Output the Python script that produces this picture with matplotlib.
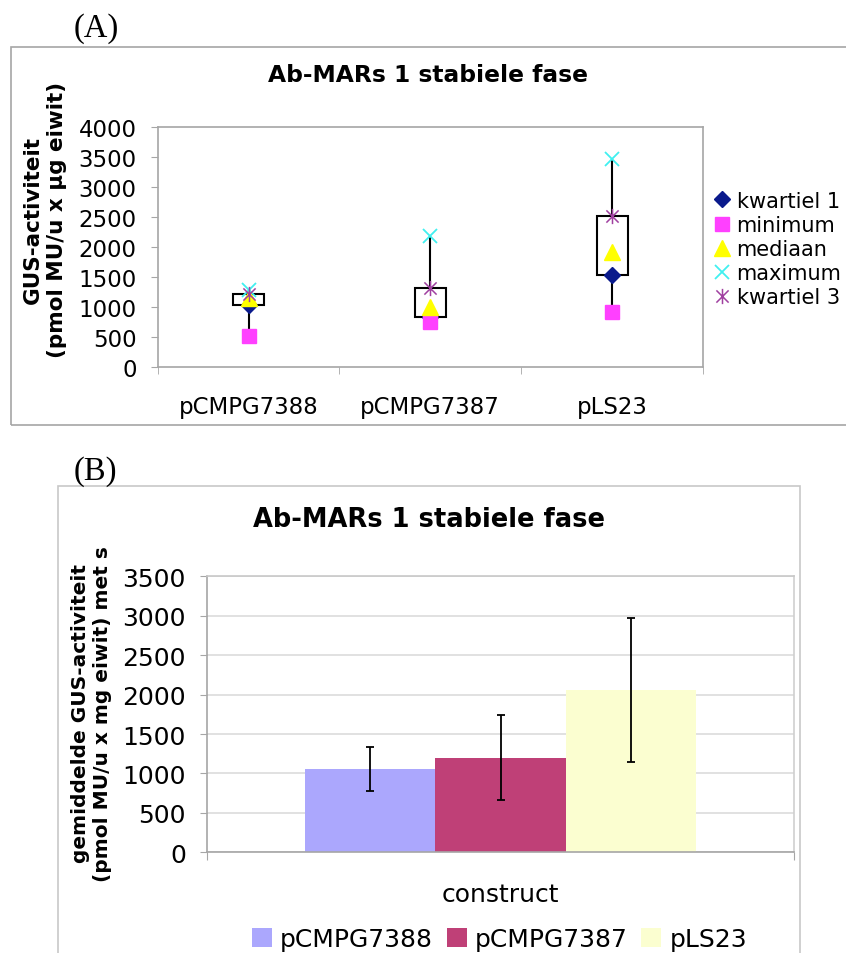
import matplotlib
matplotlib.use('Agg')
import matplotlib.pyplot as plt
from matplotlib.lines import Line2D
from matplotlib.patches import Rectangle, Patch
from matplotlib.path import Path

plt.rcParams['font.family'] = 'DejaVu Sans'

W, H = 846, 954

# ---- data: panel A (box-plot statistics) ----
constructs = ['pCMPG7388', 'pCMPG7387', 'pLS23']
kwartiel1 = [1045, 845, 1545]
minimum = [515, 760, 925]
mediaan = [1160, 1000, 1930]
maximum = [1285, 2190, 3480]
kwartiel3 = [1230, 1325, 2520]

# ---- data: panel B (mean +/- s) ----
means = [1060, 1200, 2060]
sds = [280, 540, 910]
bar_colors = ['#ABA7FD', '#BF4077', '#FBFED0']

GRAY = '#A6A6A6'


def fx(px):
    return px / W


def fy(py):
    return 1 - py / H


fig = plt.figure(figsize=(W / 100, H / 100), dpi=100)
fig.patch.set_facecolor('white')

# panel frames
fig.add_artist(Rectangle((fx(11), fy(426)), fx(850) - fx(11), fy(48) - fy(426),
                         transform=fig.transFigure, fill=False, edgecolor=GRAY, lw=1.2))
fig.add_artist(Rectangle((fx(58), fy(970)), fx(800) - fx(58), fy(487) - fy(970),
                         transform=fig.transFigure, fill=False, edgecolor='#C8C8C8', lw=1.2))

fig.text(fx(74), fy(29), '(A)', family='Liberation Serif', fontsize=23.5, ha='left', va='center')
fig.text(fx(74), fy(472), '(B)', family='Liberation Serif', fontsize=23.5, ha='left', va='center')

# ================= panel A =================
axA = fig.add_axes([fx(157.6), fy(368.3), fx(703) - fx(157.6), fy(128.3) - fy(368.3)])
x = list(range(len(constructs)))

axA.vlines(x, minimum, maximum, color='black', lw=1.5, zorder=1)
axA.bar(x, [b - a for a, b in zip(kwartiel1, kwartiel3)], bottom=kwartiel1, width=0.17,
        facecolor='white', edgecolor='black', lw=1.5, zorder=2)

star = Path([(-1, -1), (1, 1), (-1, 1), (1, -1), (0, -1.25), (0, 1.25)],
            [Path.MOVETO, Path.LINETO] * 3)

series = [
    ('kwartiel 1', kwartiel1, dict(marker='D', ms=8, mfc='#0A1A8C', mec='#0A1A8C')),
    ('minimum', minimum, dict(marker='s', ms=10, mfc='#FF40FF', mec='#FF40FF')),
    ('mediaan', mediaan, dict(marker='^', ms=11, mfc='#FFFF00', mec='#FFFF00')),
    ('maximum', maximum, dict(marker='x', ms=10, mec='#40F0F0', mew=1.3)),
    ('kwartiel 3', kwartiel3, dict(marker=star, ms=11, mfc='none', mec='#A040A0', mew=1.1)),
]
handles = []
for name, vals, st in series:
    axA.plot(x, vals, ls='none', zorder=3, **st)
    handles.append(Line2D([], [], ls='none', label=name, **st))

axA.set_xlim(-0.5, 2.5)
axA.set_ylim(0, 4000)
axA.set_yticks(range(0, 4001, 500))
axA.set_xticks(x, constructs)
axA.set_xticks([-0.5, 0.5, 1.5, 2.5], minor=True)
axA.tick_params(axis='x', which='major', length=0, pad=20, labelsize=16.5)
axA.tick_params(axis='x', which='minor', length=5, direction='out', color=GRAY)
axA.tick_params(axis='y', length=5, direction='out', color=GRAY, pad=10, labelsize=16.5)
for s in axA.spines.values():
    s.set_color(GRAY)
    s.set_linewidth(1.2)

fig.text(fx(428), fy(76), 'Ab-MARs 1 stabiele fase', fontsize=16.8, fontweight='bold',
         ha='center', va='center')
fig.text(fx(45), fy(220), 'GUS-activiteit\n(pmol MU/u x µg eiwit)', rotation=90,
         ha='center', va='center', multialignment='center', fontsize=15.5,
         fontweight='bold', linespacing=1.25)

fig.legend(handles=handles, loc='center left', bbox_to_anchor=(fx(713.7), fy(250)),
           frameon=False, fontsize=15, handlelength=0.8, handletextpad=0.3,
           labelspacing=0.2, borderpad=0, borderaxespad=0)

# ================= panel B =================
axB = fig.add_axes([fx(206.7), fy(853.3), fx(794.4) - fx(206.7), fy(577.3) - fy(853.3)])
xb = [-1, 0, 1]
axB.bar(xb, means, width=1.0, color=bar_colors, zorder=2)
axB.errorbar(xb, means, yerr=sds, fmt='none', ecolor='black', elinewidth=1.3,
             capsize=3, capthick=1.3, zorder=3)

half = 589 / 130.5 / 2
axB.set_xlim(-half, half)
axB.set_ylim(0, 3500)
axB.set_yticks(range(0, 3501, 500))
axB.yaxis.grid(True, color='#DCDCDC', lw=1.2, zorder=0)
axB.set_axisbelow(True)
axB.set_xticks([-half, half], ['', ''])
axB.tick_params(axis='x', length=6, direction='out', color=GRAY)
axB.tick_params(axis='y', length=5, direction='out', color=GRAY, pad=10, labelsize=18)
axB.spines['left'].set_color(GRAY)
axB.spines['bottom'].set_color(GRAY)
axB.spines['top'].set_color('#C8C8C8')
axB.spines['right'].set_color('#D0D0D0')
for s in axB.spines.values():
    s.set_linewidth(1.2)

fig.text(fx(429), fy(520), 'Ab-MARs 1 stabiele fase', fontsize=18.5, fontweight='bold',
         ha='center', va='center')
fig.text(fx(500), fy(895), 'construct', fontsize=18, ha='center', va='center')
fig.text(fx(91), fy(714), 'gemiddelde GUS-activiteit\n(pmol MU/u x mg eiwit) met s',
         rotation=90, ha='center', va='center', multialignment='center', fontsize=14.5,
         fontweight='bold', linespacing=1.2)

leg_handles = [Patch(facecolor=c, edgecolor='none', label=n) for c, n in zip(bar_colors, constructs)]
fig.legend(handles=leg_handles, loc='center left', bbox_to_anchor=(fx(252), fy(940)),
           ncol=3, frameon=False, fontsize=18, handlelength=0.8, handleheight=0.8,
           handletextpad=0.32, columnspacing=0.55, borderpad=0, borderaxespad=0)

fig.savefig('out.png', dpi=100, facecolor='white')
